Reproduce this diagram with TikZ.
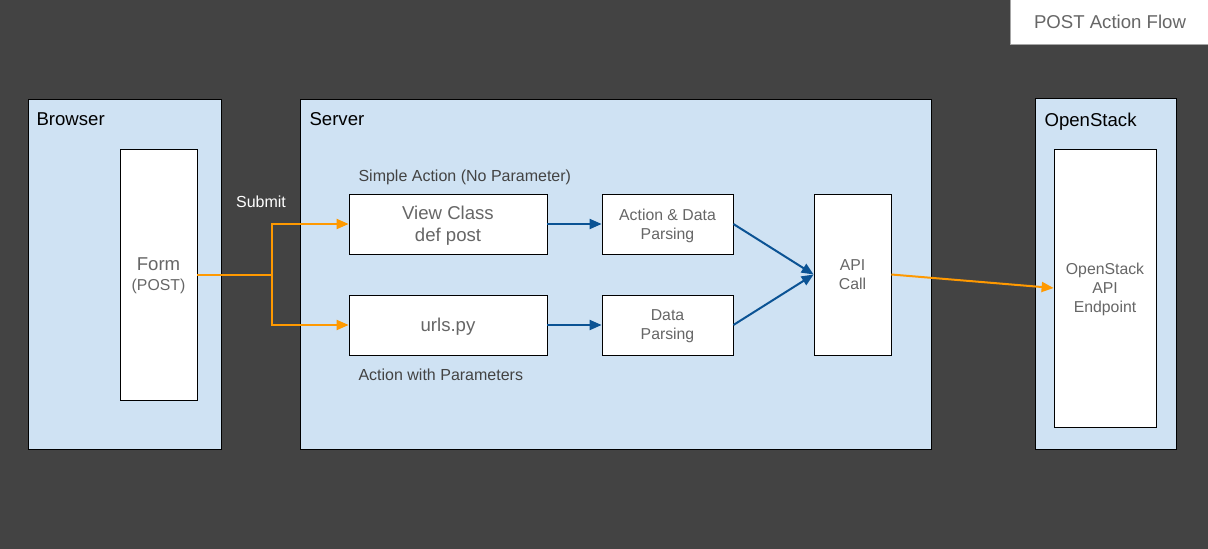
\documentclass[tikz,border=0pt]{standalone}
\usepackage{fontspec}
\setmainfont{Liberation Sans}
\usetikzlibrary{arrows.meta}
\definecolor{bgdark}{HTML}{434343}
\definecolor{lanefill}{HTML}{CFE2F3}
\definecolor{flowor}{HTML}{FF9900}
\definecolor{callblue}{HTML}{0B5394}
\definecolor{boxtext}{HTML}{666666}
\tikzset{
      lane/.style={draw=black, fill=lanefill, line width=0.8, inner sep=0},
      lanelabel/.style={anchor=west, text=black, text depth=0pt, font=\fontsize{18.6}{21}\selectfont},
      block/.style={draw=black, fill=white, line width=0.8, align=center, text=boxtext,
            text depth=-3pt, font=\fontsize{18.6}{22}\selectfont},
      smallblock/.style={block, font=\fontsize{15.8}{19}\selectfont},
      note/.style={anchor=west, text=bgdark, font=\fontsize{16}{18}\selectfont},
      submit/.style={draw=flowor, line width=2, -{Triangle[length=12, width=10]}},
      call/.style={draw=callblue, line width=2, -{Triangle[length=12, width=10]}},
}
\begin{document}
\begin{tikzpicture}[x=1pt, y=-1pt]
        \useasboundingbox (0,0) rectangle (1208,549);
        \fill[bgdark] (0,0) rectangle (1208,549);

        % Draw the title
        \node[draw=gray!70, fill=white, line width=1, minimum width=200, minimum height=45,
              text=boxtext, font=\fontsize{18.6}{21}\selectfont]
              (title) at (1110,21.5) {POST Action Flow};

        % Draw the lanes
        \node[lane, minimum width=193, minimum height=350] (browser) at (124.5,274) {};
        \node[lane, minimum width=631, minimum height=350] (server) at (615.5,274) {};
        \node[lane, minimum width=141, minimum height=351] (openstack) at (1105.5,273.5) {};
        \node[lanelabel] (browserlabel) at (33,119.5) {Browser};
        \node[lanelabel] (serverlabel) at (306,119.5) {Server};
        \node[lanelabel] (openstacklabel) at (1041,119.5) {OpenStack};

        % Draw the blocks
        \node[block, minimum width=77, minimum height=251] (form) at (158.5,274.5)
              {Form\\[-2pt]{\fontsize{15.8}{18}\selectfont(POST)}};
        \node[block, minimum width=198, minimum height=60] (viewclass) at (448,224) {View Class\\def post};
        \node[block, minimum width=198, minimum height=60] (urls) at (448,325) {urls.py};
        \node[smallblock, minimum width=131, minimum height=60] (actparse) at (667.5,224) {Action \& Data\\Parsing};
        \node[smallblock, minimum width=131, minimum height=60] (dataparse) at (667.5,325) {Data\\Parsing};
        \node[smallblock, minimum width=77, minimum height=161] (apicall) at (852.5,274.5) {API\\Call};
        \node[smallblock, minimum width=102, minimum height=278] (endpoint) at (1105,288) {OpenStack\\API\\Endpoint};

        % Draw the notes
        \node[note] (simplenote) at (355,177.5) {Simple Action (No Parameter)};
        \node[note] (paramnote) at (355,374.5) {Action with Parameters};
        \node[note, anchor=center, text=white] (submitnote) at (261,201.5) {Submit};

        % Draw the flows
        \coordinate (split) at (272,274.5);
        \draw[submit] (form.east) -- (split) |- (viewclass.west);
        \draw[submit] (split) |- (urls.west);
        \draw[call] (viewclass.east) -- (actparse.west);
        \draw[call] (urls.east) -- (dataparse.west);
        \draw[call] (actparse.east) -- (apicall.west);
        \draw[call] (dataparse.east) -- (apicall.west);
        \draw[submit] (apicall.east) -- (endpoint.west);

    \end{tikzpicture}
\end{document}
